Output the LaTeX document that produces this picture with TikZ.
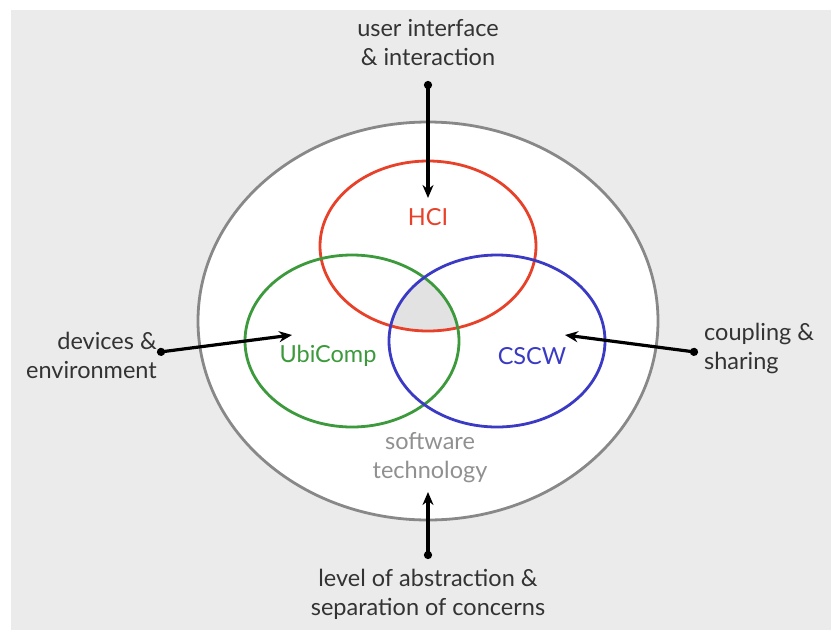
\documentclass[tikz,border=0pt]{standalone}
\usepackage{fontspec}
\setmainfont{Lato}
\usetikzlibrary{shapes.geometric,arrows.meta}
\definecolor{bggrey}{HTML}{EBEBEB}
\definecolor{ringgrey}{HTML}{888888}
\definecolor{hcired}{HTML}{E8412A}
\definecolor{ubigreen}{HTML}{3C9A3C}
\definecolor{cscwblue}{HTML}{3A3AC4}
\definecolor{txtgrey}{HTML}{333333}
\definecolor{swgrey}{HTML}{909090}
\definecolor{coregrey}{HTML}{E2E2E2}
\tikzset{
  lbl/.style={font=\fontsize{23.5}{29}\selectfont, text=txtgrey, align=center, inner sep=0pt},
  ring/.style={ellipse, draw, line width=2.8pt, inner sep=0pt},
  pointer/.style={line width=3.2pt, {Circle[length=8pt]}-{Stealth[length=13pt,width=11pt]}, shorten <=-3pt}
}
\begin{document}
\begin{tikzpicture}[x=1pt,y=-1pt]
\useasboundingbox (0,0) rectangle (831,630);
\fill[white] (0,0) rectangle (831,630);
\fill[bggrey] (11,10) rectangle (831,630);
% outer ellipse
\node[ring, draw=ringgrey, fill=white, minimum width=460pt, minimum height=398pt] (outer) at (428,321) {};
% core intersection
\begin{scope}
  \clip (428,246) ellipse [x radius=108, y radius=85];
  \clip (352,341) ellipse [x radius=107, y radius=86];
  \fill[coregrey] (497,341) ellipse [x radius=108, y radius=86];
\end{scope}
\node[ring, draw=hcired, minimum width=216pt, minimum height=170pt] (hci) at (428,246) {};
\node[ring, draw=ubigreen, minimum width=214pt, minimum height=172pt] (ubi) at (352,341) {};
\node[ring, draw=cscwblue, minimum width=216pt, minimum height=172pt] (cscw) at (497,341) {};
% labels
\node[lbl, text=hcired] (hcit) at (428,217) {HCI};
\node[lbl, text=ubigreen] (ubit) at (328,356) {UbiComp};
\node[lbl, text=cscwblue] (cscwt) at (532,356) {CSCW};
\node[lbl, text=swgrey] (sw) at (430,458) {software\\technology};
\node[lbl] (ui) at (428,43) {user interface\\\& interaction};
\node[lbl, align=right, anchor=east] (dev) at (157,355) {devices \&\\environment};
\node[lbl, align=left, anchor=west] (coup) at (704,348) {coupling \&\\sharing};
\node[lbl] (lev) at (428,594) {level of abstraction \&\\separation of concerns};
% arrow endpoints
\coordinate (a1s) at (428,84);  \coordinate (a1e) at (428,198);
\coordinate (a2s) at (160,352); \coordinate (a2e) at (292,335);
\coordinate (a3s) at (695,352); \coordinate (a3e) at (565,335);
\coordinate (a4s) at (428,556); \coordinate (a4e) at (428,492);
\draw[pointer] (a1s) -- (a1e);
\draw[pointer] (a2s) -- (a2e);
\draw[pointer] (a3s) -- (a3e);
\draw[pointer] (a4s) -- (a4e);
\end{tikzpicture}
\end{document}
